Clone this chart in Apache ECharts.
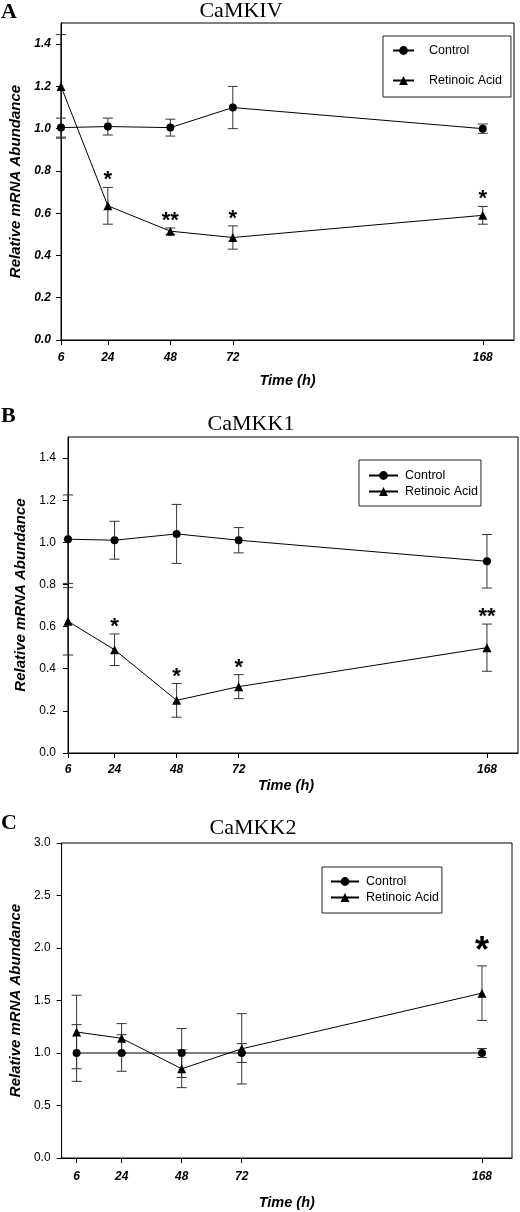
<!DOCTYPE html>
<html><head><meta charset="utf-8">
<script src="https://cdn.jsdelivr.net/npm/echarts@6/dist/echarts.min.js"></script>
<style>html,body{margin:0;padding:0;background:#fff}#c{width:520px;height:1212px}</style>
</head><body><div id="c"></div><script>
// ---- data ----
const times = [6, 24, 48, 72, 168];
const xTickLabels = [6, 24, 48, 72, 168];
const seriesNames = ['Control', 'Retinoic Acid'];
const titles = ['CaMKIV', 'CaMKK1', 'CaMKK2'];
const letters = ['A', 'B', 'C'];
const xName = 'Time (h)';
const yName = 'Relative mRNA Abundance';

const ctrlA = [1.005, 1.01, 1.005, 1.10, 1.0];
const ctrlAErr = [0.045, 0.04, 0.04, 0.10, 0.022];
const raA = [1.20, 0.635, 0.515, 0.485, 0.59];
const raAErr = [0.245, 0.087, 0.015, 0.055, 0.042];
const sigA = ['', '*', '**', '*', '*'];

const ctrlB = [1.015, 1.01, 1.04, 1.01, 0.91];
const ctrlBErr = [0.21, 0.09, 0.14, 0.06, 0.127];
const raB = [0.625, 0.49, 0.25, 0.315, 0.50];
const raBErr = [0.16, 0.075, 0.08, 0.057, 0.112];
const sigB = ['', '*', '*', '*', '**'];

const ctrlC = [1.0, 1.0, 1.0, 1.0, 1.0];
const ctrlCErr = [0.27, 0.174, 0.233, 0.09, 0.043];
const raC = [1.20, 1.14, 0.85, 1.04, 1.57];
const raCErr = [0.35, 0.14, 0.18, 0.335, 0.26];
const sigC = ['', '', '', '', '*'];

const yTicksAB = [0, 0.2, 0.4, 0.6, 0.8, 1.0, 1.2, 1.4];
const yTicksC = [0, 0.5, 1.0, 1.5, 2.0, 2.5, 3.0];

// ---- layout ----
const SANS = '"Liberation Sans", Arial, sans-serif';
const SERIF = '"Liberation Serif", "Times New Roman", serif';

const panels = [
  { ctrl: ctrlA, ctrlErr: ctrlAErr, ra: raA, raErr: raAErr, sig: sigA, yTicks: yTicksAB, yMax: 1.5, xMin: 6, yBold: true,
    grid: { left: 61, top: 23, width: 453, height: 317 },
    legend: { left: 383, top: 36, padding: [8, 9, 10, 9], itemGap: 17, itemWidth: 21, textPad: 10 },
    yNameGap: 38, xNameGap: 33, xLabelMargin: 12, yLabelMargin: 10, starOffset: 7, starSize: 22, xNameShift: 0,
    title: { x: 241, y: 11.5 }, letter: { x: 1, y: 12.5 } },
  { ctrl: ctrlB, ctrlErr: ctrlBErr, ra: raB, raErr: raBErr, sig: sigB, yTicks: yTicksAB, yMax: 1.5, xMin: 6, yBold: false,
    grid: { left: 68, top: 437, width: 450, height: 316 },
    legend: { left: 359, top: 460, padding: [9, 3, 8, 9], itemGap: 3, itemWidth: 29, textPad: 2 },
    yNameGap: 40, xNameGap: 25, xLabelMargin: 11, yLabelMargin: 12, starOffset: 7, starSize: 22, xNameShift: 14,
    title: { x: 251, y: 424.5 }, letter: { x: 1, y: 416.5 } },
  { ctrl: ctrlC, ctrlErr: ctrlCErr, ra: raC, raErr: raCErr, sig: sigC, yTicks: yTicksC, yMax: 3.0, xMin: 0, yBold: false,
    grid: { left: 61, top: 843, width: 451, height: 315 },
    legend: { left: 322, top: 867, padding: [8, 3, 9, 8], itemGap: 3, itemWidth: 28, textPad: 2 },
    yNameGap: 38, xNameGap: 37, xLabelMargin: 13, yLabelMargin: 11, starOffset: 14, starSize: 36, xNameShift: 0,
    title: { x: 253, y: 828.5 }, letter: { x: 1, y: 823 } }
];

function errBarRender(params, api) {
  const x = api.value(0), y = api.value(1), e = api.value(2);
  const t = api.coord([x, y + e]);
  const b = api.coord([x, y - e]);
  const w = 5;
  const st = { stroke: '#333', lineWidth: 1 };
  return { type: 'group', children: [
    { type: 'line', shape: { x1: t[0], y1: t[1], x2: b[0], y2: b[1] }, style: st },
    { type: 'line', shape: { x1: t[0] - w, y1: t[1], x2: t[0] + w, y2: t[1] }, style: st },
    { type: 'line', shape: { x1: b[0] - w, y1: b[1], x2: b[0] + w, y2: b[1] }, style: st }
  ] };
}

const option = { animation: false, backgroundColor: '#fff', grid: [], xAxis: [], yAxis: [], series: [], legend: [], graphic: [] };

panels.forEach((p, i) => {
  option.grid.push(Object.assign({ show: true, borderColor: '#000', borderWidth: 1, backgroundColor: 'transparent' }, p.grid));
  option.xAxis.push({
    type: 'value', gridIndex: i, min: p.xMin, max: 180,
    name: xName, nameLocation: 'middle', nameGap: p.xNameGap,
    nameTextStyle: { fontFamily: SANS, fontSize: 14.5, fontWeight: 'bold', fontStyle: 'italic', color: '#000', padding: [0, p.xNameShift, 0, 0] },
    axisLine: { show: true, onZero: false, lineStyle: { color: '#000', width: 1 } },
    axisTick: { show: true, inside: false, length: 5, customValues: xTickLabels, lineStyle: { color: '#000' } },
    axisLabel: { customValues: xTickLabels, margin: p.xLabelMargin, fontFamily: SANS, fontSize: 12, fontWeight: 'bold', fontStyle: 'italic', color: '#000',
      formatter: v => String(v) },
    splitLine: { show: false }
  });
  option.yAxis.push({
    type: 'value', gridIndex: i, min: 0, max: p.yMax,
    name: yName, nameLocation: 'middle', nameGap: p.yNameGap,
    nameTextStyle: { fontFamily: SANS, fontSize: 15, fontWeight: 'bold', fontStyle: 'italic', color: '#000' },
    axisLine: { show: true, onZero: false, lineStyle: { color: '#000', width: 1 } },
    axisTick: { show: true, inside: false, length: 5, customValues: p.yTicks, lineStyle: { color: '#000' } },
    axisLabel: { customValues: p.yTicks, margin: p.yLabelMargin, fontFamily: SANS, fontSize: 12,
      fontWeight: p.yBold ? 'bold' : 'normal', fontStyle: p.yBold ? 'italic' : 'normal', color: '#000',
      formatter: v => Number(v).toFixed(1) },
    splitLine: { show: false }
  });
  // error bars
  [[p.ctrl, p.ctrlErr], [p.ra, p.raErr]].forEach((pair, k) => {
    option.series.push({
      type: 'custom', name: 'err' + i + k, xAxisIndex: i, yAxisIndex: i, z: 1, silent: true,
      renderItem: errBarRender, encode: { x: 0, y: 1 },
      data: times.map((t, j) => [t, pair[0][j], pair[1][j]])
    });
  });
  // lines
  option.series.push({
    type: 'line', name: seriesNames[0], xAxisIndex: i, yAxisIndex: i, z: 3,
    data: times.map((t, j) => [t, p.ctrl[j]]), symbol: 'circle', symbolSize: 8,
    lineStyle: { color: '#000', width: 1 }, itemStyle: { color: '#000' }, clip: false
  });
  option.series.push({
    type: 'line', name: seriesNames[1], xAxisIndex: i, yAxisIndex: i, z: 3,
    data: times.map((t, j) => [t, p.ra[j]]), symbol: 'triangle', symbolSize: 9,
    lineStyle: { color: '#000', width: 1 }, itemStyle: { color: '#000' }, clip: false
  });
  // significance asterisks
  const sig = p.sig;
  option.series.push({
    type: 'custom', name: 'sig' + i, xAxisIndex: i, yAxisIndex: i, z: 4, silent: true,
    encode: { x: 0, y: 1 },
    data: times.map((t, j) => [t, p.ra[j] + p.raErr[j]]),
    renderItem: (params, api) => {
      const s = sig[params.dataIndex];
      if (!s) return null;
      const c = api.coord([api.value(0), api.value(1)]);
      return { type: 'text', style: { text: s, x: c[0], y: c[1] - p.starOffset, align: 'center', verticalAlign: 'middle',
        font: 'bold ' + p.starSize + 'px ' + SANS, fill: '#000' } };
    }
  });
  option.legend.push({
    data: seriesNames, orient: 'vertical', left: p.legend.left, top: p.legend.top,
    padding: p.legend.padding, itemGap: p.legend.itemGap, itemWidth: p.legend.itemWidth, itemHeight: 11,
    borderColor: '#222', borderWidth: 1, backgroundColor: '#fff', selectedMode: false,
    textStyle: { fontFamily: SANS, fontSize: 12.5, color: '#000', padding: [0, 0, 0, p.legend.textPad] }
  });
  option.graphic.push({ type: 'text', x: p.title.x, y: p.title.y,
    style: { text: titles[i], font: '22px ' + SERIF, fill: '#000', align: 'center', verticalAlign: 'middle' } });
  option.graphic.push({ type: 'text', x: p.letter.x, y: p.letter.y,
    style: { text: letters[i], font: 'bold 22px ' + SERIF, fill: '#000', align: 'left', verticalAlign: 'middle' } });
});

const chart = echarts.init(document.getElementById('c'), null, { renderer: 'canvas' });
chart.setOption(option);
</script></body></html>
